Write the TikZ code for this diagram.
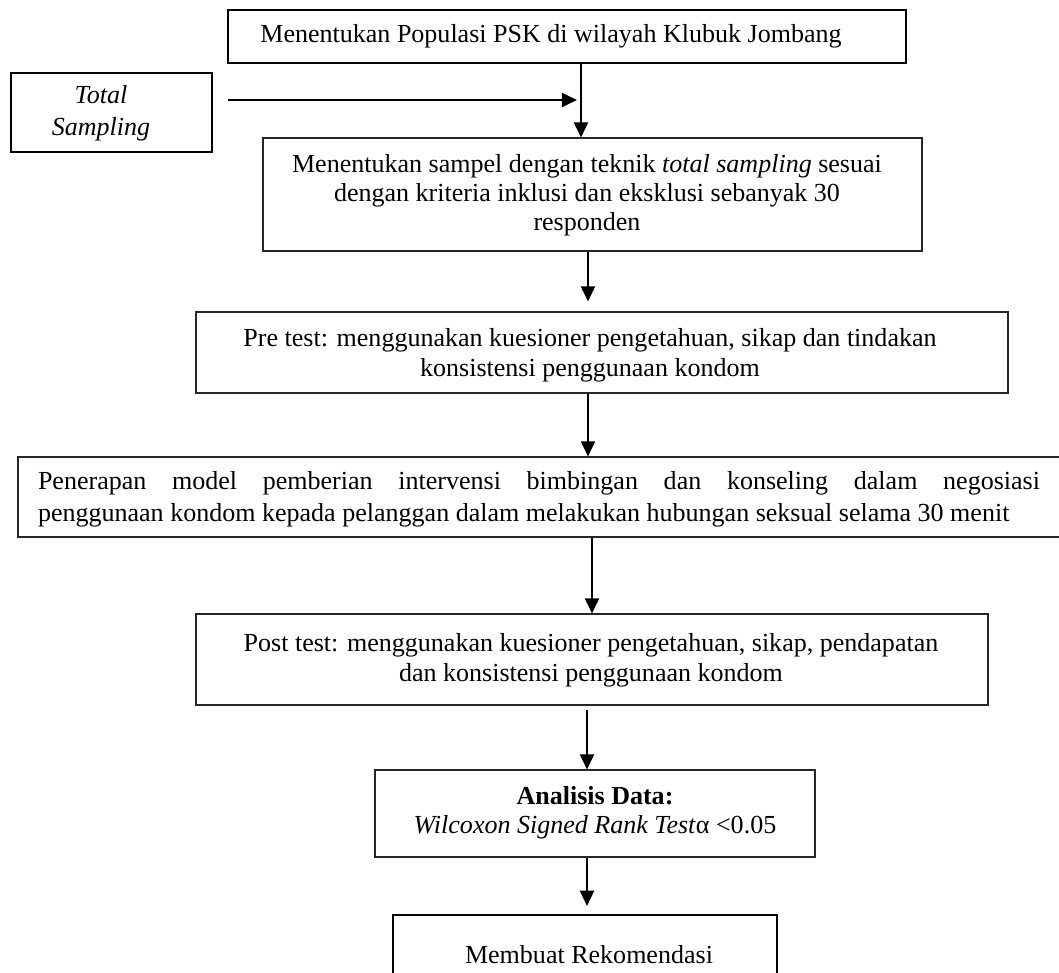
\documentclass[tikz,border=0pt]{standalone}
\usepackage{fontspec}
\setmainfont{Liberation Serif}
\usetikzlibrary{arrows.meta,calc}
\newlength\pxl
\setlength\pxl{0.0162cm}
\begin{document}
\begin{tikzpicture}[x=0.0162cm,y=-0.0162cm,
  thinbox/.style={draw=black!85, line width=0.5pt, inner sep=0pt},
  thickbox/.style={draw=black, line width=1pt, inner sep=0pt},
  txt/.style={inner sep=0pt, align=center, font=\fontsize{12}{13.8}\selectfont},
  arr/.style={draw=black, line width=0.9pt, -{Triangle[length=7pt,width=6.5pt]}}]
\useasboundingbox (0,0) rectangle (1059,972);
\clip (0,0) rectangle (1059,972);
% boxes
\node[thickbox, minimum width=678\pxl, minimum height=53\pxl] (b1) at (567,36.5) {};
\node[thickbox, minimum width=201\pxl, minimum height=79\pxl] (ts) at (111.5,112.5) {};
\node[thinbox, minimum width=659\pxl, minimum height=113\pxl] (b2) at (592.5,194.5) {};
\node[thinbox, minimum width=812\pxl, minimum height=81\pxl] (b3) at (602,352.5) {};
\node[thinbox, minimum width=1048\pxl, minimum height=80\pxl] (b4) at (542,497) {};
\node[thinbox, minimum width=792\pxl, minimum height=91\pxl] (b5) at (592,659.5) {};
\node[thinbox, minimum width=440\pxl, minimum height=87\pxl] (b6) at (595,813.5) {};
\node[thickbox, minimum width=384\pxl, minimum height=80\pxl] (b7) at (585,955) {};
% texts
\node[txt] (t1) at (551,36) {Menentukan Populasi PSK di wilayah Klubuk Jombang};
\node[txt, font=\fontsize{12}{14.7}\selectfont\itshape] (tts) at (101,113) {Total\\Sampling};
\node[txt, font=\fontsize{12}{13.4}\selectfont] (t2) at (587,195) {Menentukan sampel dengan teknik \textit{total sampling} sesuai\\dengan kriteria inklusi dan eksklusi sebanyak 30\\responden};
\node[txt] (t3) at (590,355) {Pre test: menggunakan kuesioner pengetahuan, sikap dan tindakan\\konsistensi penggunaan kondom};
\node[txt, text width=1002\pxl, align=justify, font=\fontsize{12}{14.6}\selectfont] (t4) at (539,499) {Penerapan model pemberian intervensi bimbingan dan konseling dalam negosiasi\linebreak penggunaan kondom kepada pelanggan dalam melakukan hubungan seksual selama 30 menit};
\node[txt] (t5) at (591,660) {Post test: menggunakan kuesioner pengetahuan, sikap, pendapatan\\dan konsistensi penggunaan kondom};
\node[txt, font=\fontsize{12}{13.4}\selectfont] (t6) at (595,812.5) {\textbf{Analisis Data:}\\\textit{Wilcoxon Signed Rank Test}α <0.05};
\node[txt] (t7) at (589,955) {Membuat Rekomendasi};
% connector helpers
\coordinate (x1) at (581,0);
\coordinate (x2) at (588,0);
\coordinate (x4) at (592,0);
\coordinate (x5) at (587,0);
\coordinate (tsout) at (228,100);
\coordinate (tsin) at (577,100);
% connectors
\draw[arr] (tsout) -- (tsin);
\draw[arr] (b1.south -| x1) -- (b2.north -| x1);
\draw[arr] (b2.south -| x2) -- ($(b3.north -| x2)+(0,-10)$);
\draw[arr] (b3.south -| x2) -- (b4.north -| x2);
\draw[arr] (b4.south -| x4) -- (b5.north -| x4);
\draw[arr] ($(b5.south -| x5)+(0,4)$) -- (b6.north -| x5);
\draw[arr] (b6.south -| x5) -- ($(b7.north -| x5)+(0,-8)$);
\end{tikzpicture}
\end{document}
